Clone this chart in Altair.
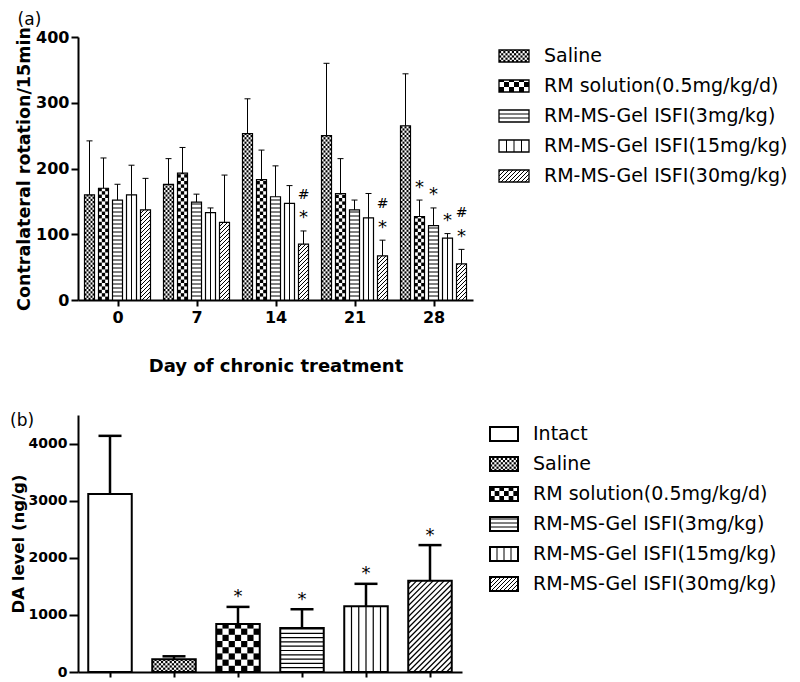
import json
import altair as alt
import numpy as np
import pandas as pd

# ---------------- data: panel (a) ----------------
DAYS = ["0", "7", "14", "21", "28"]
GROUPS_A = ["Saline", "RM solution(0.5mg/kg/d)", "RM-MS-Gel ISFI(3mg/kg)",
            "RM-MS-Gel ISFI(15mg/kg)", "RM-MS-Gel ISFI(30mg/kg)"]
SALINE_A = [160, 176, 253, 250, 265]
SALINE_A_SD = [82, 39, 53, 110, 79]
RMSOL_A = [170, 193, 183, 162, 127]
RMSOL_A_SD = [46, 39, 45, 53, 25]
GEL3_A = [152, 149, 157, 137, 113]
GEL3_A_SD = [24, 12, 47, 15, 27]
GEL15_A = [160, 133, 147, 125, 94]
GEL15_A_SD = [45, 7, 27, 37, 7]
GEL30_A = [137, 118, 85, 67, 55]
GEL30_A_SD = [48, 72, 20, 24, 22]
STAR_A = [("RM-MS-Gel ISFI(30mg/kg)", "14"), ("RM-MS-Gel ISFI(30mg/kg)", "21"),
          ("RM solution(0.5mg/kg/d)", "28"), ("RM-MS-Gel ISFI(3mg/kg)", "28"),
          ("RM-MS-Gel ISFI(15mg/kg)", "28"), ("RM-MS-Gel ISFI(30mg/kg)", "28")]
HASH_A = [("RM-MS-Gel ISFI(30mg/kg)", "14"), ("RM-MS-Gel ISFI(30mg/kg)", "21"),
          ("RM-MS-Gel ISFI(30mg/kg)", "28")]
Y_TICKS_A = [0, 100, 200, 300, 400]

# ---------------- data: panel (b) ----------------
GROUPS_B = ["Intact", "Saline", "RM solution(0.5mg/kg/d)", "RM-MS-Gel ISFI(3mg/kg)",
            "RM-MS-Gel ISFI(15mg/kg)", "RM-MS-Gel ISFI(30mg/kg)"]
DA_B = [3117, 222, 842, 772, 1152, 1596]
DA_B_SD = [1018, 53, 298, 327, 392, 626]
STAR_B = ["RM solution(0.5mg/kg/d)", "RM-MS-Gel ISFI(3mg/kg)",
          "RM-MS-Gel ISFI(15mg/kg)", "RM-MS-Gel ISFI(30mg/kg)"]
Y_TICKS_B = [0, 1000, 2000, 3000, 4000]

SERIES_A = {
    GROUPS_A[0]: (SALINE_A, SALINE_A_SD),
    GROUPS_A[1]: (RMSOL_A, RMSOL_A_SD),
    GROUPS_A[2]: (GEL3_A, GEL3_A_SD),
    GROUPS_A[3]: (GEL15_A, GEL15_A_SD),
    GROUPS_A[4]: (GEL30_A, GEL30_A_SD),
}

# ---------------- style / layout ----------------
FONT = "DejaVu Sans"
W_A, H_A, YMAX_A = 395, 263, 400
W_B, H_B, YMAX_B = 384, 257, 4500
SX_A = W_A / len(DAYS)
SY_A = H_A / YMAX_A
SX_B = W_B / len(GROUPS_B)
SY_B = H_B / YMAX_B
BAR_STEP_A = 14 / SX_A
BAR_W_A = 10 / SX_A
CAP_A = 6 / SX_A
BAR_W_B = 43.5 / SX_B
CAP_B = 23 / SX_B

PAT_A = {"fine": 2.2, "checker": 3.4, "hlines": 4.0, "vlines": 1, "diag": 4.0}
PAT_B = {"fine": 2.2, "checker": 6.2, "hlines": 4.3, "vlines": 5, "diag": 5.5}
PAT_L = {"fine": 2.2, "checker": 5.0, "hlines": 4.0, "vlines": 3, "diag": 4.0}
KIND = {"Intact": None, "Saline": "fine", "RM solution(0.5mg/kg/d)": "checker",
        "RM-MS-Gel ISFI(3mg/kg)": "hlines", "RM-MS-Gel ISFI(15mg/kg)": "vlines",
        "RM-MS-Gel ISFI(30mg/kg)": "diag"}


def pattern(kind, x0, x1, y0, y1, sx, sy, prm):
    """Hatch geometry inside a bar, in data units (pattern sizes given in px)."""
    X0, X1, Y0, Y1 = x0 * sx, x1 * sx, y0 * sy, y1 * sy
    rects, segs = [], []
    if kind in ("fine", "checker"):
        c = prm[kind]
        ncol = max(1, int(round((X1 - X0) / c)))
        cw = (X1 - X0) / ncol
        nrow = int(np.ceil((Y1 - Y0) / c - 1e-9))
        for i in range(ncol):
            for j in range(nrow):
                if (i + j) % 2 == 0:
                    ya = Y0 + j * c
                    yb = min(Y1, ya + c)
                    rects.append((X0 + i * cw, X0 + (i + 1) * cw, ya, yb))
    elif kind == "hlines":
        sp = prm[kind]
        k = 1
        while Y0 + k * sp < Y1 - 0.8:
            yy = Y0 + k * sp
            segs.append((X0, yy, X1, yy))
            k += 1
    elif kind == "vlines":
        n = prm[kind]
        for j in range(1, n + 1):
            xx = X0 + j * (X1 - X0) / (n + 1)
            segs.append((xx, Y0, xx, Y1))
    elif kind == "diag":
        sp = prm[kind]
        kmin = int(np.ceil((Y0 - X1) / sp))
        kmax = int(np.floor((Y1 - X0) / sp))
        for k in range(kmin, kmax + 1):
            c = k * sp
            xs = max(X0, Y0 - c)
            xe = min(X1, Y1 - c)
            if xe - xs > 0.3:
                segs.append((xs, xs + c, xe, xe + c))
    rects = [dict(x=a / sx, x2=b / sx, y=c_ / sy, y2=d / sy) for a, b, c_, d in rects]
    segs = [dict(x=a / sx, y=b / sy, x2=c_ / sx, y2=d / sy) for a, b, c_, d in segs]
    return rects, segs


# ---------------- tables ----------------
rows_a, rect_a, seg_a = [], [], []
for gi, g in enumerate(GROUPS_A):
    means, sds = SERIES_A[g]
    for di, d in enumerate(DAYS):
        xc = di + 0.5 + (gi - 2) * BAR_STEP_A
        r = dict(group=g, day=d, xc=xc, x0=xc - BAR_W_A / 2, x1=xc + BAR_W_A / 2,
                 mean=means[di], top=means[di] + sds[di], base=0,
                 c0=xc - CAP_A / 2, c1=xc + CAP_A / 2)
        rows_a.append(r)
        pr, ps = pattern(KIND[g], r["x0"], r["x1"], 0, r["mean"], SX_A, SY_A, PAT_A)
        rect_a += pr
        seg_a += ps
bars_a = pd.DataFrame(rows_a)
star_a = bars_a[[(g, d) in STAR_A for g, d in zip(bars_a.group, bars_a.day)]].copy()
hash_a = bars_a[[(g, d) in HASH_A for g, d in zip(bars_a.group, bars_a.day)]].copy()

rows_b, rect_b, seg_b = [], [], []
for gi, g in enumerate(GROUPS_B):
    xc = gi + 0.5
    r = dict(group=g, xc=xc, x0=xc - BAR_W_B / 2, x1=xc + BAR_W_B / 2,
             mean=DA_B[gi], top=DA_B[gi] + DA_B_SD[gi], base=0,
             c0=xc - CAP_B / 2, c1=xc + CAP_B / 2)
    rows_b.append(r)
    pr, ps = pattern(KIND[g], r["x0"], r["x1"], 0, r["mean"], SX_B, SY_B, PAT_B)
    rect_b += pr
    seg_b += ps
bars_b = pd.DataFrame(rows_b)
star_b = bars_b[bars_b.group.isin(STAR_B)].copy()


def panel(bars, rects, segs, notes, xdom, ydom, w, h, xaxis, yaxis,
          stroke_w, err_w, seg_w, title):
    xs = alt.Scale(domain=xdom, nice=False, zero=False)
    ys = alt.Scale(domain=ydom, nice=False, zero=True)

    def X(f):
        return alt.X(f, scale=xs, axis=xaxis)

    def Y(f):
        return alt.Y(f, scale=ys, axis=yaxis)

    base = alt.Chart(bars)
    layers = [
        base.mark_rect(fill="white", strokeWidth=0).encode(
            x=X("x0:Q"), x2="x1:Q", y=Y("mean:Q"), y2="base:Q"),
        alt.Chart(pd.DataFrame(rects)).mark_rect(fill="black", strokeWidth=0).encode(
            x=X("x:Q"), x2="x2:Q", y=Y("y:Q"), y2="y2:Q"),
        alt.Chart(pd.DataFrame(segs)).mark_rule(color="black", strokeWidth=seg_w).encode(
            x=X("x:Q"), x2="x2:Q", y=Y("y:Q"), y2="y2:Q"),
        base.mark_rect(fillOpacity=0, stroke="black", strokeWidth=stroke_w).encode(
            x=X("x0:Q"), x2="x1:Q", y=Y("mean:Q"), y2="base:Q"),
        base.mark_rule(color="black", strokeWidth=err_w).encode(
            x=X("xc:Q"), y=Y("mean:Q"), y2="top:Q"),
        base.mark_rule(color="black", strokeWidth=err_w).encode(
            x=X("c0:Q"), x2="c1:Q", y=Y("top:Q")),
    ]
    for df, sym, size, dy in notes:
        layers.append(alt.Chart(df).mark_text(
            text=sym, font=FONT, fontSize=size, dy=dy, baseline="alphabetic",
            align="center", color="black").encode(x=X("xc:Q"), y=Y("top:Q")))
    return alt.layer(*layers).properties(width=w, height=h, title=title)


def legend(groups, w, h, row0, sym_w, sym_h, text_x, font_size, stroke_w):
    rows, lr, ls = [], [], []
    for i, g in enumerate(groups):
        yc = h - (row0 + 30 * i)
        rows.append(dict(label=g, x0=0, x1=sym_w, y0=yc - sym_h / 2, y1=yc + sym_h / 2,
                         yc=yc, tx=text_x))
        pr, ps = pattern(KIND[g], 0, sym_w, yc - sym_h / 2, yc + sym_h / 2, 1, 1, PAT_L)
        lr += pr
        ls += ps
    df = pd.DataFrame(rows)
    xs = alt.Scale(domain=[0, w], nice=False, zero=False)
    ys = alt.Scale(domain=[0, h], nice=False, zero=False)
    layers = [
        alt.Chart(df).mark_rect(fill="white", strokeWidth=0).encode(
            x=alt.X("x0:Q", scale=xs, axis=None), x2="x1:Q",
            y=alt.Y("y0:Q", scale=ys, axis=None), y2="y1:Q"),
    ]
    if lr:
        layers.append(alt.Chart(pd.DataFrame(lr)).mark_rect(fill="black", strokeWidth=0).encode(
            x=alt.X("x:Q", axis=None), x2="x2:Q", y=alt.Y("y:Q", axis=None), y2="y2:Q"))
    if ls:
        layers.append(alt.Chart(pd.DataFrame(ls)).mark_rule(color="black", strokeWidth=1).encode(
            x=alt.X("x:Q", axis=None), x2="x2:Q", y=alt.Y("y:Q", axis=None), y2="y2:Q"))
    layers += [
        alt.Chart(df).mark_rect(fillOpacity=0, stroke="black", strokeWidth=stroke_w).encode(
            x=alt.X("x0:Q", axis=None), x2="x1:Q", y=alt.Y("y0:Q", axis=None), y2="y1:Q"),
        alt.Chart(df).mark_text(align="left", baseline="middle", font=FONT,
                                fontSize=font_size, color="black").encode(
            x=alt.X("tx:Q", axis=None), y=alt.Y("yc:Q", axis=None), text="label:N"),
    ]
    return alt.layer(*layers).properties(width=w, height=h)


xaxis_a = alt.Axis(values=[i + 0.5 for i in range(len(DAYS))],
                   labelExpr=json.dumps(DAYS) + "[round(datum.value - 0.5)]",
                   title="Day of chronic treatment", titleFontSize=18, labelFontSize=16,
                   tickSize=6, labelPadding=3, titlePadding=32, labelFlush=False)
yaxis_a = alt.Axis(values=Y_TICKS_A, format="d", title="Contralateral rotation/15min",
                   titleFontSize=17.5, labelFontSize=16, tickSize=7, labelPadding=2,
                   titlePadding=2)
xaxis_b = alt.Axis(values=[i + 0.5 for i in range(len(GROUPS_B))], labels=False,
                   title=None, tickSize=5)
yaxis_b = alt.Axis(values=Y_TICKS_B, format="d", title="DA level (ng/g)",
                   titleFontSize=16.5, labelFontSize=14, tickSize=9, labelPadding=2,
                   titlePadding=2)

plot_a = panel(bars_a, rect_a, seg_a,
               [(star_a, "*", 18, -7.5), (hash_a, "#", 14, -32)],
               [0, len(DAYS)], [0, YMAX_A], W_A, H_A, xaxis_a, yaxis_a,
               1.2, 1, 1,
               alt.Title("(a)", anchor="start", frame="bounds", fontSize=17,
                         font=FONT, fontWeight="normal", offset=-2, dx=2))
plot_b = panel(bars_b, rect_b, seg_b,
               [(star_b, "*", 18, -4.5)],
               [0, len(GROUPS_B)], [0, YMAX_B], W_B, H_B, xaxis_b, yaxis_b,
               2, 2.5, 1.2,
               alt.Title("(b)", anchor="start", frame="bounds", fontSize=17,
                         font=FONT, fontWeight="normal", offset=-15))

leg_a = legend(GROUPS_A, 285, H_A, 19, 30, 12, 45, 19, 1.3)
leg_b = legend(GROUPS_B, 290, H_B, 19, 28, 14, 43, 19, 2)

row_a = alt.hconcat(plot_a, leg_a, spacing=25)
row_b = alt.hconcat(plot_b, leg_b, spacing=27)

chart = alt.vconcat(row_a, row_b, spacing=37).properties(
    padding={"left": 2, "top": 2, "right": 0, "bottom": 0}
).configure_view(stroke=None).configure_axis(
    domainColor="black", domainWidth=2, tickColor="black", tickWidth=2,
    labelColor="black", titleColor="black", labelFont=FONT, titleFont=FONT,
    labelFontWeight="bold", titleFontWeight="bold", grid=False
).configure_title(color="black")

chart.save("out.html", embed_options={"renderer": "svg", "actions": False})
